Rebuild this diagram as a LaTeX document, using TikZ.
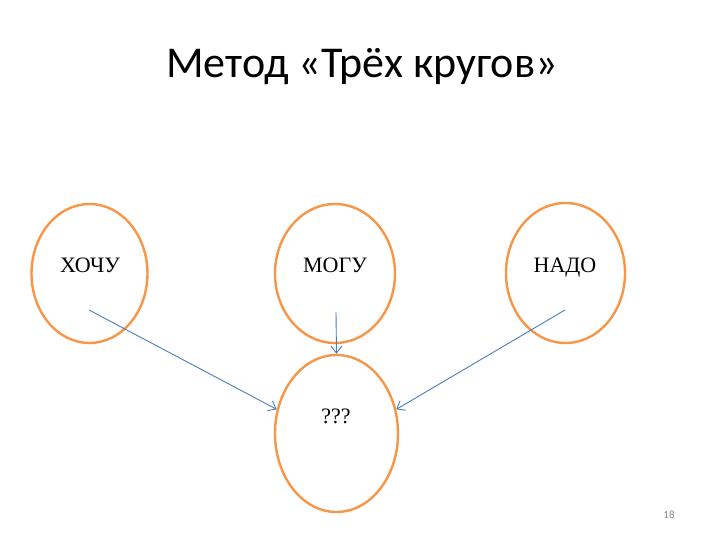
\documentclass[tikz,border=0pt]{standalone}
\usepackage{fontspec}
\setmainfont{Liberation Serif}
\newfontfamily\titlefont{Carlito}
\usetikzlibrary{shapes.geometric,arrows.meta}

\definecolor{circleorange}{RGB}{247,150,70}
\definecolor{arrowblue}{RGB}{74,126,187}
\definecolor{pagegray}{RGB}{140,140,140}

\tikzset{every picture/.style={line width=0.75pt}}
\tikzset{
  krug/.style={ellipse,draw=circleorange,line width=2.4pt,inner sep=0pt,
    minimum width=116pt,minimum height=139pt},
  slovo/.style={anchor=base,inner sep=0pt,font=\fontsize{22}{24}\selectfont},
  strelka/.style={draw=arrowblue,line width=0.9pt,-{Straight Barb[length=7pt,width=11pt]}}
}

\begin{document}
\begin{tikzpicture}[x=1pt,y=1pt,yscale=-1,xscale=1]
\useasboundingbox (0,0) rectangle (720,540);

% Title
\node (title) at (362,78) [anchor=base,font=\titlefont\fontsize{44}{47}\selectfont] {Метод «Трёх кругов»};

%Shape: Ellipse ХОЧУ
\node (hochu) at (89.5,273.5) [krug] {};
%Shape: Ellipse МОГУ
\node (mogu) at (335,273.5) [krug,minimum width=120pt] {};
%Shape: Ellipse НАДО
\node (nado) at (565.5,273) [krug,minimum width=119pt,minimum height=140pt] {};
%Shape: Ellipse ???
\node (result) at (336.5,433.5) [krug,minimum width=123pt,minimum height=157pt] {};

% Text Node
\node (hochuText) at (90,272) [slovo] {ХОЧУ};
% Text Node
\node (moguText) at (335,272) [slovo] {МОГУ};
% Text Node
\node (nadoText) at (565,272) [slovo] {НАДО};
% Text Node
\node (resultText) at (336,423) [slovo] {???};

% arrow tails
\coordinate (hochuTail) at (89,310);
\coordinate (moguTail) at (336,312);
\coordinate (nadoTail) at (565,310);

%Straight Lines
\draw [strelka] (hochuTail) -- (result.158);
\draw [strelka] (moguTail) -- (result.north);
\draw [strelka] (nadoTail) -- (result.22);

% Page number
\node (pagenum) at (669,518) [anchor=base,font=\titlefont\fontsize{11}{12}\selectfont,text=pagegray] {18};
\end{tikzpicture}
\end{document}
